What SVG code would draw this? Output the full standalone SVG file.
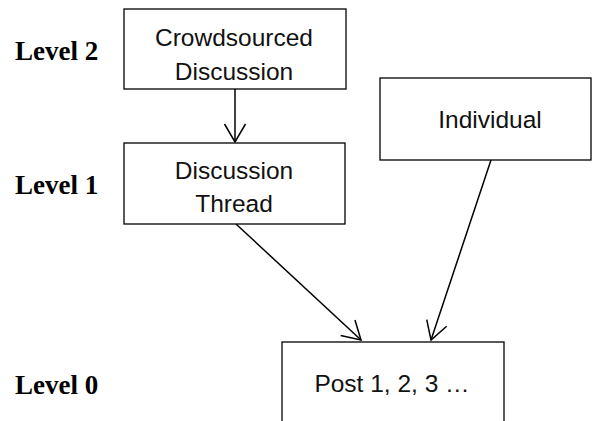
<svg xmlns="http://www.w3.org/2000/svg" width="592" height="421" viewBox="0 0 592 421">
<style>
.box{fill:#fff;stroke:#000;stroke-width:1.3}
.t{font-family:"Liberation Sans",Arial,sans-serif;font-size:24.5px;text-anchor:middle;fill:#111}
.lv{font-family:"Liberation Serif","Times New Roman",serif;font-weight:bold;font-size:27px;fill:#000}
.c{stroke:#000;stroke-width:1.5;fill:none;marker-end:url(#ah)}
</style>
<defs>
<marker id="ah" markerUnits="userSpaceOnUse" viewBox="-22 -12 24 24" markerWidth="24" markerHeight="24" refX="0" refY="0" orient="auto">
<path d="M-18,-10.5 L0,0 L-18,10.5" fill="none" stroke="#000" stroke-width="1.5"/>
</marker>
</defs>
<g id="labels">
<text class="lv" x="15" y="60">Level 2</text>
<text class="lv" x="15" y="194">Level 1</text>
<text class="lv" x="15" y="394">Level 0</text>
</g>
<g id="connectors">
<path class="c" d="M235,89 L235,142"/>
<path class="c" d="M236,224 L361,340"/>
<path class="c" d="M491,160 L431,340"/>
</g>
<g id="crowdsourced">
<rect class="box" x="124" y="9" width="222" height="80"/>
<text class="t" x="234" y="46">Crowdsourced</text>
<text class="t" x="234" y="80">Discussion</text>
</g>
<g id="thread">
<rect class="box" x="124" y="143" width="221" height="81"/>
<text class="t" x="234" y="179">Discussion</text>
<text class="t" x="234" y="212">Thread</text>
</g>
<g id="individual">
<rect class="box" x="380" y="78" width="211" height="82"/>
<text class="t" x="490" y="128">Individual</text>
</g>
<g id="post">
<rect class="box" x="282" y="342" width="222" height="90"/>
<text class="t" x="392" y="392">Post 1, 2, 3 …</text>
</g>
</svg>
